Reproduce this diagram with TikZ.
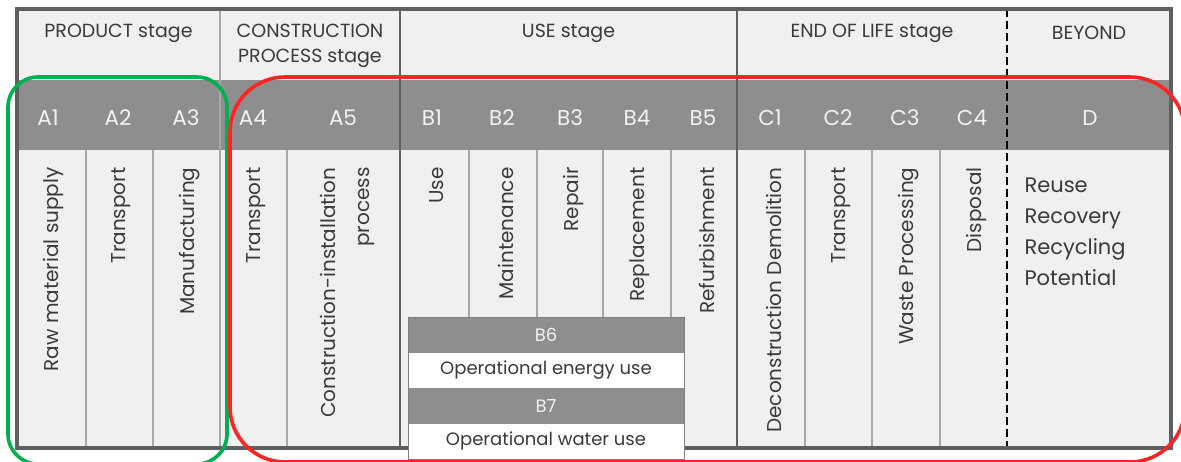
\documentclass[tikz,border=0pt]{standalone}
\usepackage{fontspec}
\setmainfont{Poppins}
\usetikzlibrary{positioning}

\definecolor{framegray}{HTML}{5F5F5F}
\definecolor{panelgray}{HTML}{F0F0F0}
\definecolor{bandgray}{HTML}{8E8E8E}
\definecolor{linegray}{HTML}{A8A8A8}
\definecolor{inkgray}{HTML}{3A3A3A}
\definecolor{codewhite}{HTML}{F2F2F2}
\definecolor{lcagreen}{HTML}{00B050}
\definecolor{lcared}{HTML}{FF2424}

\begin{document}
\begin{tikzpicture}[x=1pt,y=-1pt,
    stagehead/.style={text=inkgray, font=\fontsize{19}{25}\selectfont, align=center},
    code/.style={text=codewhite, font=\fontsize{21.5}{21.5}\selectfont},
    phase/.style={rotate=90, anchor=east, text=inkgray, font=\fontsize{20}{34}\selectfont, align=right},
    colline/.style={draw=linegray, line width=1.5pt},
    stageline/.style={draw=framegray, line width=2pt},
    oprow/.style={minimum width=276pt, minimum height=35.5pt, inner sep=0pt, outer sep=0pt, font=\fontsize{18}{18}\selectfont}]
    \useasboundingbox (0,0) rectangle (1181,461);

    % table background and code band
    \fill[panelgray] (17,9) rectangle (1171,448);
    \fill[bandgray] (17,80) rectangle (1171,150);

    % column lines in the body
    \foreach \cx in {86,153,287,469,537,603,671,805,872,940}
        \draw[colline] (\cx,150) -- (\cx,448);
    \draw[colline] (220,9) -- (220,448);
    \draw[stageline] (400,9) -- (400,448);
    \draw[stageline] (737,9) -- (737,448);
    \draw[black, line width=2.2pt, dashed, dash pattern=on 8pt off 4pt] (1007,9) -- (1007,448);
    \draw[framegray, line width=4pt] (17,9) rectangle (1171,448);

    % stage headings
    \node[stagehead] (product) at (118.5,33) {PRODUCT stage};
    \node[stagehead] (construction) at (310,46) {CONSTRUCTION\\PROCESS stage};
    \node[stagehead] (use) at (568.5,33) {USE stage};
    \node[stagehead] (endoflife) at (872,33) {END OF LIFE stage};
    \node[stagehead] (beyond) at (1089,33) {BEYOND};

    % module codes
    \node[code] (a1) at (48,118) {A1};
    \node[code] (a2) at (118,118) {A2};
    \node[code] (a3) at (186,118) {A3};
    \node[code] (a4) at (253,118) {A4};
    \node[code] (a5) at (343,118) {A5};
    \node[code] (b1) at (432,118) {B1};
    \node[code] (b2) at (502,118) {B2};
    \node[code] (b3) at (570,118) {B3};
    \node[code] (b4) at (637,118) {B4};
    \node[code] (b5) at (703,118) {B5};
    \node[code] (c1) at (770,118) {C1};
    \node[code] (c2) at (838,118) {C2};
    \node[code] (c3) at (905,118) {C3};
    \node[code] (c4) at (972,118) {C4};
    \node[code] (d) at (1090,118) {D};

    % module names
    \node[phase] (rawmat) at (53,164) {Raw material supply};
    \node[phase] (transporta) at (121,164) {Transport};
    \node[phase] (manufact) at (190,164) {Manufacturing};
    \node[phase] (transportb) at (256,164) {Transport};
    \node[phase] (install) at (347,164) {Construction-installation\\process};
    \node[phase] (usephase) at (437,164) {Use};
    \node[phase] (maint) at (506,164) {Maintenance};
    \node[phase] (repair) at (573,164) {Repair};
    \node[phase] (replace) at (640,164) {Replacement};
    \node[phase] (refurb) at (707,164) {Refurbishment};
    \node[phase] (demol) at (774,164) {Deconstruction Demolition};
    \node[phase] (transportc) at (841,164) {Transport};
    \node[phase] (waste) at (909,164) {Waste Processing};
    \node[phase] (disposal) at (976,164) {Disposal};
    \node[anchor=north west, text=inkgray, align=left, font=\fontsize{21}{31}\selectfont]
        (beyondlist) at (1021,174) {Reuse\\Recovery\\Recycling\\Potential};

    % operational modules B6 and B7
    \node[oprow, fill=bandgray, text=codewhite] (b6) at (546,334.75) {B6};
    \node[oprow, fill=white, text=inkgray, below=0pt of b6] (energy) {Operational energy use};
    \node[oprow, fill=bandgray, text=codewhite, below=0pt of energy] (b7) {B7};
    \node[oprow, fill=white, text=inkgray, below=0pt of b7] (water) {Operational water use};
    \draw[framegray!80, line width=1pt] (b6.north west) rectangle (water.south east);

    % scope outlines
    \draw[lcagreen, line width=3.6pt, rounded corners=30pt] (8,77) rectangle (227,464);
    \draw[lcared, line width=3.6pt, rounded corners=55pt] (230,77) rectangle (1185,462);
\end{tikzpicture}
\end{document}
